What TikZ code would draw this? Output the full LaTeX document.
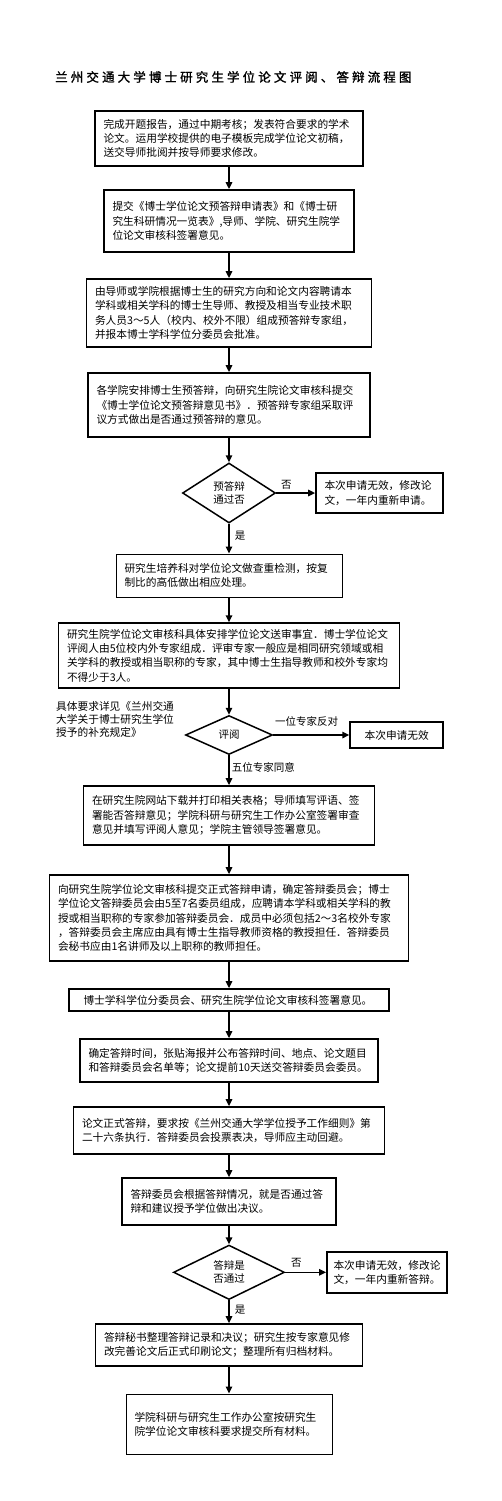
\documentclass[tikz,border=0pt]{standalone}
\usepackage{fontspec}
\setmainfont{Noto Sans CJK SC}
\newfontfamily\titlefont[LetterSpace=25,FakeBold=1.5]{Noto Sans CJK SC}
\usetikzlibrary{shapes.geometric,arrows.meta}

\begin{document}
\begin{tikzpicture}[x=1pt,y=-1pt,
    stepbox/.style={draw, rectangle, line width=1.8pt, align=left, inner xsep=8.5pt, inner ysep=0pt, font=\fontsize{10.7}{14.2}\selectfont},
    thinbox/.style={stepbox, line width=1pt},
    check/.style={draw, diamond, line width=1.5pt, inner sep=0pt, align=center, font=\fontsize{10.5}{13.3}\selectfont},
    arr/.style={-{Triangle[length=7pt,width=6.5pt]}, line width=1.5pt},
    lbl/.style={font=\fontsize{10.5}{12}\selectfont, inner sep=2pt}]
    \useasboundingbox (0,0) rectangle (502,1501);

    \node[anchor=west, inner sep=0pt, font=\titlefont\fontsize{12.5}{14}\selectfont] (title) at (55,77) {兰州交通大学博士研究生学位论文评阅、答辩流程图};

    \node[stepbox, text width=251pt, minimum height=55pt] (draft) at (229,138.5) {完成开题报告，通过中期考核；发表符合要求的学术\\论文。运用学校提供的电子模板完成学位论文初稿，\\送交导师批阅并按导师要求修改。};
    \node[stepbox, text width=233pt, minimum height=62pt] (apply) at (229,221) {提交《博士学位论文预答辩申请表》和《博士研\\究生科研情况一览表》,导师、学院、研究生院学\\位论文审核科签署意见。};
    \node[stepbox, text width=268pt, minimum height=68pt] (panel) at (229,313) {由导师或学院根据博士生的研究方向和论文内容聘请本\\学科或相关学科的博士生导师、教授及相当专业技术职\\务人员3～5人（校内、校外不限）组成预答辩专家组，\\并报本博士学科学位分委员会批准。};
    \node[stepbox, text width=265pt, minimum height=64pt] (predef) at (229,405) {各学院安排博士生预答辩，向研究生院论文审核科提交\\《博士学位论文预答辩意见书》．预答辩专家组采取评\\议方式做出是否通过预答辩的意见。};
    \node[check, minimum width=93pt, minimum height=60pt] (prepass) at (229,493) {预答辩\\通过否};
    \node[stepbox, text width=110pt, minimum height=40pt] (fail1) at (379.5,493) {本次申请无效，修改论\\文，一年内重新申请。};
    \node[thinbox, text width=209pt, minimum height=43pt] (dupcheck) at (229,575.5) {研究生培养科对学位论文做查重检测，按复\\制比的高低做出相应处理。};
    \node[stepbox, text width=324pt, minimum height=65pt] (review) at (229,655.7) {研究生院学位论文审核科具体安排学位论文送审事宜．博士学位论文\\评阅人由5位校内外专家组成．评审专家一般应是相同研究领域或相\\关学科的教授或相当职称的专家，其中博士生指导教师和校外专家均\\不得少于3人。};
    \node[anchor=north west, align=left, inner sep=0pt, font=\fontsize{10.7}{13.3}\selectfont] (note) at (56,701) {具体要求详见《兰州交通\\大学关于博士研究生学位\\授予的补充规定》};
    \node[check, minimum width=87pt, minimum height=39pt] (revpass) at (229,735) {评阅};
    \node[stepbox, minimum width=93pt, minimum height=26pt, align=center] (fail2) at (396.7,735) {本次申请无效};
    \node[stepbox, text width=274pt, minimum height=59pt] (forms) at (229,815.5) {在研究生院网站下载并打印相关表格；导师填写评语、签\\署能否答辩意见；学院科研与研究生工作办公室签署审查\\意见并填写评阅人意见；学院主管领导签署意见。};
    \node[stepbox, text width=342pt, minimum height=86pt] (committee) at (229,918) {向研究生院学位论文审核科提交正式答辩申请，确定答辩委员会；博士\\学位论文答辩委员会由5至7名委员组成，应聘请本学科或相关学科的教\\授或相当职称的专家参加答辩委员会．成员中必须包括2～3名校外专家\\，答辩委员会主席应由具有博士生指导教师资格的教授担任．答辩委员\\会秘书应由1名讲师及以上职称的教师担任。};
    \node[stepbox, inner xsep=14.5pt, text width=291pt, minimum height=22pt] (sign) at (229,1000) {博士学科学位分委员会、研究生院学位论文审核科签署意见。};
    \node[stepbox, text width=281pt, minimum height=43pt] (schedule) at (229,1060.5) {确定答辩时间，张贴海报并公布答辩时间、地点、论文题目\\和答辩委员会名单等；论文提前10天送交答辩委员会委员。};
    \node[stepbox, text width=294pt, minimum height=47pt] (defense) at (229,1130.5) {论文正式答辩，要求按《兰州交通大学学位授予工作细则》第\\二十六条执行．答辩委员会投票表决，导师应主动回避。};
    \node[stepbox, text width=197pt, minimum height=47pt] (resolve) at (229,1201.5) {答辩委员会根据答辩情况，就是否通过答\\辩和建议授予学位做出决议。};
    \node[check, minimum width=111pt, minimum height=48pt] (defpass) at (229,1272.3) {答辩是\\否通过};
    \node[stepbox, inner xsep=6.5pt, text width=107pt, minimum height=41pt] (fail3) at (387,1272.3) {本次申请无效，修改论\\文，一年内重新答辩。};
    \node[stepbox, text width=250pt, minimum height=42pt] (archive) at (229,1345) {答辩秘书整理答辩记录和决议；研究生按专家意见修\\改完善论文后正式印刷论文；整理所有归档材料。};
    \node[thinbox, text width=189pt, minimum height=60pt] (submit) at (229,1424) {学院科研与研究生工作办公室按研究生\\院学位论文审核科要求提交所有材料。};

    \draw[arr] (draft) -- (apply);
    \draw[arr] (apply) -- (panel);
    \draw[arr] (panel) -- (predef);
    \draw[arr] (predef) -- (prepass);
    \draw[arr] (prepass) -- node[lbl, above=0.5pt, pos=0.26] {否} (fail1);
    \draw[arr] (prepass) -- node[lbl, right, xshift=3pt, pos=0.39] {是} (dupcheck);
    \draw[arr] (dupcheck) -- (review);
    \draw[arr] (review) -- (revpass);
    \draw[arr] (revpass) -- node[lbl, above=6pt, pos=0.44] {一位专家反对} (fail2);
    \draw[arr] (revpass) -- node[lbl, right, pos=0.4] {五位专家同意} (forms);
    \draw[arr] (forms) -- (committee);
    \draw[arr] (committee) -- (sign);
    \draw[arr] (sign) -- (schedule);
    \draw[arr] (schedule) -- (defense);
    \draw[arr] (defense) -- (resolve);
    \draw[arr] (resolve) -- (defpass);
    \draw[arr] (defpass) -- node[lbl, above=2pt, pos=0.27] {否} (fail3);
    \draw[arr] (defpass) -- node[lbl, right, xshift=3pt, pos=0.41] {是} (archive);
    \draw[arr] (archive) -- (submit);
\end{tikzpicture}
\end{document}
